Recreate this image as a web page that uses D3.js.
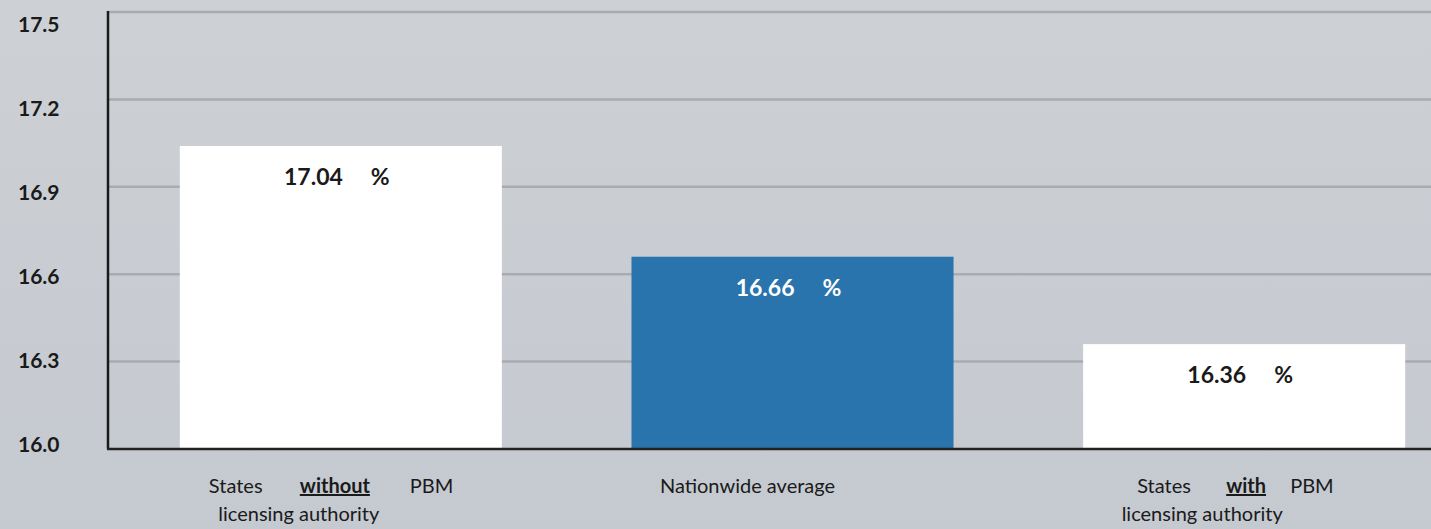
<!DOCTYPE html>
<html>
<head>
<meta charset="utf-8">
<script src="https://cdn.jsdelivr.net/npm/d3@7"></script>
<style>
html,body{margin:0;padding:0;background:#c9cdd2;}
svg{display:block;}
text{font-family:Lato,"Open Sans",sans-serif;}
</style>
</head>
<body>
<svg id="chart" width="1431" height="529"></svg>
<script>
// ---- data ----
const categories = ["without", "average", "with"];
const values = [17.04, 16.66, 16.36];
const barColors = ["#ffffff", "#2a74ad", "#ffffff"];
const valueLabelColors = ["#1a1a1a", "#ffffff", "#1a1a1a"];
const tickValues = [16.0, 16.3, 16.6, 16.9, 17.2, 17.5];
const tickLabels = ["16.0", "16.3", "16.6", "16.9", "17.2", "17.5"];
const catLine1 = [["States", "without", "PBM"], ["Nationwide average"], ["States", "with", "PBM"]];
const catLine2 = ["licensing authority", "", "licensing authority"];

const W = 1431, H = 529;
const svg = d3.select("#chart");

// background gradient
const defs = svg.append("defs");
const grad = defs.append("linearGradient").attr("id", "bg").attr("x1", 0).attr("y1", 0).attr("x2", 0).attr("y2", 1);
grad.append("stop").attr("offset", "0%").attr("stop-color", "#cdd1d5");
grad.append("stop").attr("offset", "100%").attr("stop-color", "#c5c9d0");
svg.append("rect").attr("width", W).attr("height", H).attr("fill", "url(#bg)");

const x0 = 108;
const y = d3.scaleLinear().domain([16, 17.5]).range([449, 12]);
const yLab = d3.scaleLinear().domain([16, 17.5]).range([444.5, 24.5]);
const x = d3.scaleBand().domain(categories).range([x0, 1477]).paddingInner(0.287).paddingOuter(0.159);

// gridlines
svg.append("g").selectAll("line").data(tickValues.filter(d => d > 16)).join("line")
  .attr("x1", x0).attr("x2", W)
  .attr("y1", d => y(d)).attr("y2", d => y(d))
  .attr("stroke", "#a9abae").attr("stroke-width", 2.5);

// bars
svg.append("g").selectAll("rect").data(values).join("rect")
  .attr("x", (d, i) => x(categories[i]))
  .attr("width", x.bandwidth())
  .attr("y", d => y(d))
  .attr("height", d => y(16) - y(d))
  .attr("fill", (d, i) => barColors[i]);

// axes lines
svg.append("line").attr("x1", x0).attr("x2", x0).attr("y1", y(17.5) - 1).attr("y2", y(16))
  .attr("stroke", "#1a1a1a").attr("stroke-width", 2.5);
svg.append("line").attr("x1", x0 - 1).attr("x2", W).attr("y1", y(16)).attr("y2", y(16))
  .attr("stroke", "#222").attr("stroke-width", 2.5);

// tick labels
svg.append("g").selectAll("text").data(tickValues).join("text")
  .attr("x", 18)
  .attr("y", d => yLab(d) + 7.5)
  .attr("font-size", 21).attr("font-weight", 700).attr("fill", "#1a1a1a")
  .text((d, i) => tickLabels[i]);

// value labels
const vl = svg.append("g");
values.forEach((v, i) => {
  const cx = x(categories[i]) + x.bandwidth() / 2;
  vl.append("text").attr("x", cx + 2).attr("y", y(v) + 39)
    .attr("text-anchor", "end").attr("font-size", 23).attr("font-weight", 700)
    .attr("fill", valueLabelColors[i]).text(v.toFixed(2));
  vl.append("text").attr("x", cx + 30).attr("y", y(v) + 39)
    .attr("font-size", 23).attr("font-weight", 700)
    .attr("fill", valueLabelColors[i]).text("%");
});

// category labels
const cl = svg.append("g").attr("font-size", 20).attr("fill", "#1a1a1a");
const wordOffsets = [[-132, -41, 69], [-45], [-107, -18, 46]];
catLine1.forEach((words, i) => {
  const cx = x(categories[i]) + x.bandwidth() / 2;
  if (words.length === 1) {
    cl.append("text").attr("x", cx + wordOffsets[i][0]).attr("y", 493).attr("text-anchor", "middle").text(words[0]);
  } else {
    words.forEach((w, j) => {
      cl.append("text").attr("x", cx + wordOffsets[i][j]).attr("y", 493)
        .attr("font-weight", j === 1 ? 700 : 400)
        .attr("text-decoration", j === 1 ? "underline" : null)
        .text(w);
    });
  }
  if (catLine2[i]) {
    cl.append("text").attr("x", cx - 42).attr("y", 521).attr("text-anchor", "middle").text(catLine2[i]);
  }
});
</script>
</body>
</html>
